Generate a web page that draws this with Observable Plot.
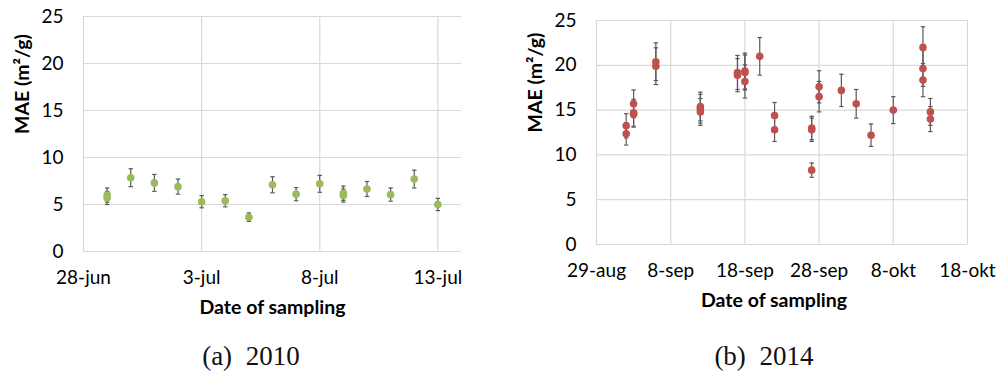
<!DOCTYPE html>
<html>
<head>
<meta charset="utf-8">
<script src="https://cdn.jsdelivr.net/npm/d3@7"></script>
<script src="https://cdn.jsdelivr.net/npm/@observablehq/plot@0.6"></script>
<style>
  html, body { margin: 0; padding: 0; background: #fff; }
  #wrap { position: relative; width: 998px; height: 373px; overflow: hidden; }
  .panel { position: absolute; top: 0; }
  .panel svg { overflow: visible; }
  .cap { position: absolute; font-family: "Liberation Serif", "DejaVu Serif", serif; font-size: 27px; line-height: 27px; word-spacing: 7px; color: #111; white-space: nowrap; transform: translateX(-50%); }
</style>
</head>
<body>
<div id="wrap">
  <div class="panel" id="a" style="left:0px"></div>
  <div class="panel" id="b" style="left:500px"></div>
  <div class="cap" style="left:251px; top:343px">(a) 2010</div>
  <div class="cap" style="left:764px; top:343px">(b) 2014</div>
</div>
<script>
// ---- 2010 data ----
const dates2010 = ["2010-06-29","2010-06-29","2010-06-30","2010-07-01","2010-07-02","2010-07-03","2010-07-04","2010-07-05","2010-07-06","2010-07-07","2010-07-08","2010-07-09","2010-07-09","2010-07-10","2010-07-11","2010-07-12","2010-07-13"];
const mae2010 = [6.0, 5.7, 7.85, 7.3, 6.9, 5.3, 5.4, 3.65, 7.1, 6.1, 7.2, 6.2, 5.95, 6.65, 6.05, 7.7, 5.0];
const err2010 = [0.75, 0.7, 0.95, 0.9, 0.8, 0.65, 0.65, 0.45, 0.85, 0.7, 0.9, 0.75, 0.7, 0.8, 0.7, 0.95, 0.65];
const domain2010 = ["2010-06-28", "2010-07-14"];
const ticks2010 = ["2010-06-28", "2010-07-03", "2010-07-08", "2010-07-13"];
const tickLabels2010 = ["28-jun", "3-jul", "8-jul", "13-jul"];

// ---- 2014 data ----
const dates2014 = ["2014-09-02","2014-09-02","2014-09-03","2014-09-03","2014-09-03","2014-09-06","2014-09-06","2014-09-12","2014-09-12","2014-09-12","2014-09-17","2014-09-17","2014-09-18","2014-09-18","2014-09-18","2014-09-20","2014-09-22","2014-09-22","2014-09-27","2014-09-27","2014-09-27","2014-09-28","2014-09-28","2014-10-01","2014-10-03","2014-10-05","2014-10-08","2014-10-12","2014-10-12","2014-10-12","2014-10-13","2014-10-13"];
const mae2014 = [13.25, 12.35, 15.7, 14.7, 14.55, 20.4, 19.9, 15.4, 15.15, 14.8, 19.2, 18.9, 19.35, 19.2, 18.2, 21.0, 14.4, 12.8, 13.0, 12.8, 8.3, 17.6, 16.5, 17.2, 15.7, 12.2, 15.0, 22.0, 19.65, 18.35, 14.8, 14.0];
const err2014 = [1.35, 1.25, 1.55, 1.5, 1.45, 2.1, 2.05, 1.6, 1.6, 1.5, 1.9, 1.85, 2.0, 1.95, 1.85, 2.1, 1.45, 1.3, 1.3, 1.3, 0.8, 1.8, 1.7, 1.8, 1.6, 1.25, 1.5, 2.3, 2.0, 1.85, 1.5, 1.4];
const domain2014 = ["2014-08-29", "2014-10-18"];
const ticks2014 = ["2014-08-29", "2014-09-08", "2014-09-18", "2014-09-28", "2014-10-08", "2014-10-18"];
const tickLabels2014 = ["29-aug", "8-sep", "18-sep", "28-sep", "8-okt", "18-okt"];

const yTicks = [0, 5, 10, 15, 20, 25];
const yTitle = "MAE (m²/g)";
const xTitle = "Date of sampling";

const parse = d3.utcParse("%Y-%m-%d");
const capSymbol = { draw(ctx) { ctx.moveTo(-2.2, 0); ctx.lineTo(2.2, 0); } };

function makeChart({dates, mae, err, domain, ticks, tickLabels, color, width, height, margins, xTitleDx, yTitleDx}) {
  const data = dates.map((d, i) => ({date: parse(d), v: mae[i], lo: mae[i] - err[i], hi: mae[i] + err[i]}));
  const tickDates = ticks.map(parse);
  const labelMap = new Map(tickDates.map((d, i) => [+d, tickLabels[i]]));
  return Plot.plot({
    width, height,
    marginLeft: margins[0], marginRight: margins[1], marginTop: margins[2], marginBottom: margins[3],
    style: {fontFamily: "Lato, 'Open Sans', sans-serif", fontSize: "19px", color: "#000", background: "transparent", overflow: "visible"},
    x: {type: "utc", domain: domain.map(parse)},
    y: {domain: [0, 25]},
    marks: [
      Plot.gridY(yTicks, {stroke: "#d9d9d9", strokeOpacity: 1, strokeWidth: 1.2}),
      Plot.gridX(tickDates, {stroke: "#d9d9d9", strokeOpacity: 1, strokeWidth: 1.2}),
      Plot.ruleY([0], {stroke: "#d9d9d9", strokeWidth: 1.2}),
      Plot.axisY(yTicks, {tickSize: 0, tickPadding: 20, label: null, fontSize: 19}),
      Plot.axisX(tickDates, {tickSize: 0, tickPadding: 19, label: null, fontSize: 19, tickFormat: d => labelMap.get(+d)}),
      Plot.text([xTitle], {frameAnchor: "bottom", dy: 62, dx: xTitleDx, fontWeight: "bold", fontSize: 19.5, fill: "#000"}),
      Plot.text([yTitle], {frameAnchor: "left", rotate: -90, dx: yTitleDx, fontWeight: "bold", fontSize: 19.5, fill: "#000"}),
      Plot.ruleX(data, {x: "date", y1: "lo", y2: "hi", stroke: "#595959", strokeWidth: 1.2}),
      Plot.dot(data, {x: "date", y: "lo", symbol: capSymbol, fill: "none", stroke: "#595959", strokeWidth: 1.2}),
      Plot.dot(data, {x: "date", y: "hi", symbol: capSymbol, fill: "none", stroke: "#595959", strokeWidth: 1.2}),
      Plot.dot(data, {x: "date", y: "v", r: 3.8, fill: color, stroke: "none"})
    ]
  });
}

document.getElementById("a").append(makeChart({
  dates: dates2010, mae: mae2010, err: err2010, domain: domain2010, ticks: ticks2010, tickLabels: tickLabels2010,
  color: "#9bbb59", width: 500, height: 320, margins: [83, 39, 16, 69], xTitleDx: 0, yTitleDx: -61
}));
document.getElementById("b").append(makeChart({
  dates: dates2014, mae: mae2014, err: err2014, domain: domain2014, ticks: ticks2014, tickLabels: tickLabels2014,
  color: "#c0504d", width: 498, height: 320, margins: [96, 31, 20, 76], xTitleDx: -8, yTitleDx: -61
}));
</script>
</body>
</html>
